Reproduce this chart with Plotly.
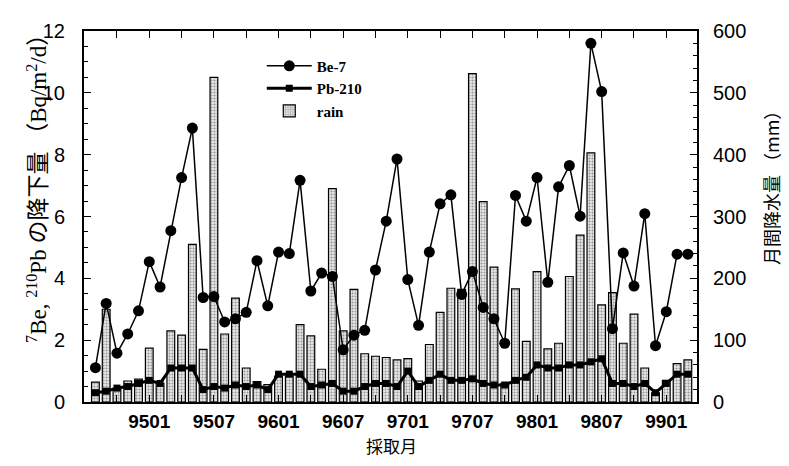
import plotly.graph_objects as go

months = ["9408", "9409", "9410", "9411", "9412",
          "9501", "9502", "9503", "9504", "9505", "9506", "9507", "9508", "9509", "9510", "9511", "9512",
          "9601", "9602", "9603", "9604", "9605", "9606", "9607", "9608", "9609", "9610", "9611", "9612",
          "9701", "9702", "9703", "9704", "9705", "9706", "9707", "9708", "9709", "9710", "9711", "9712",
          "9801", "9802", "9803", "9804", "9805", "9806", "9807", "9808", "9809", "9810", "9811", "9812",
          "9901", "9902", "9903"]

be7 = [1.11, 3.19, 1.58, 2.20, 2.95,
       4.54, 3.72, 5.54, 7.26, 8.86, 3.38, 3.41, 2.59, 2.69, 2.90, 4.57, 3.11,
       4.85, 4.80, 7.17, 3.59, 4.17, 4.06, 1.69, 2.16, 2.32, 4.27, 5.85, 7.86,
       3.96, 2.48, 4.85, 6.41, 6.70, 3.48, 4.22, 3.06, 2.69, 1.90, 6.68, 5.85,
       7.26, 3.87, 6.96, 7.65, 6.01, 11.6, 10.04, 2.37, 4.82, 3.75, 6.09, 1.82,
       2.92, 4.78, 4.78]

pb210 = [0.30, 0.35, 0.45, 0.50, 0.60,
         0.70, 0.60, 1.10, 1.10, 1.10, 0.40, 0.50, 0.45, 0.55, 0.50, 0.55, 0.40,
         0.90, 0.90, 0.90, 0.50, 0.55, 0.60, 0.35, 0.35, 0.50, 0.60, 0.60, 0.50,
         1.00, 0.50, 0.70, 0.90, 0.70, 0.70, 0.75, 0.60, 0.55, 0.55, 0.70, 0.80,
         1.20, 1.10, 1.10, 1.20, 1.20, 1.30, 1.40, 0.60, 0.60, 0.50, 0.60, 0.30,
         0.60, 0.90, 0.90]

rain = [32, 150, 20, 34, 37,
        87, 30, 115, 108, 255, 85, 525, 110, 168, 55, 33, 28,
        42, 42, 125, 107, 53, 345, 115, 182, 78, 74, 72, 68,
        70, 34, 93, 145, 184, 182, 531, 324, 218, 30, 183, 98,
        211, 86, 95, 203, 270, 403, 157, 177, 95, 142, 55, 15,
        35, 62, 68]

tick_labels = ["9501", "9507", "9601", "9607", "9701", "9707", "9801", "9807", "9901"]

x = list(range(len(months)))
first_label = months.index(tick_labels[0])
tickvals = list(range(first_label - 3, len(months) + 1, 3))
ticktext = []
for v in tickvals:
    if 0 <= v < len(months) and months[v] in tick_labels:
        ticktext.append(months[v])
    else:
        ticktext.append("")

fig = go.Figure()

fig.add_trace(go.Bar(
    x=x, y=rain, name="rain", yaxis="y", width=0.72,
    marker=dict(color="#e6e6e6", line=dict(color="black", width=1.2),
                pattern=dict(shape=".", fgcolor="#444444", bgcolor="#e6e6e6", size=3, solidity=0.35)),
    legendrank=3,
))
fig.add_trace(go.Scatter(
    x=x, y=pb210, name="Pb-210", yaxis="y2", mode="lines+markers",
    line=dict(color="black", width=3), marker=dict(symbol="square", size=7, color="black"),
    legendrank=2,
))
fig.add_trace(go.Scatter(
    x=x, y=be7, name="Be-7", yaxis="y2", mode="lines+markers",
    line=dict(color="black", width=1.5), marker=dict(symbol="circle", size=11, color="black"),
    legendrank=1,
))

fig.update_layout(
    width=781, height=458,
    margin=dict(l=76, r=92, t=15, b=64),
    plot_bgcolor="white", paper_bgcolor="white",
    showlegend=True,
    legend=dict(x=0.29, y=0.95, xanchor="left", yanchor="top",
                font=dict(family="Liberation Serif", size=15, color="black", weight="bold"),
                bgcolor="rgba(0,0,0,0)", tracegroupgap=0, itemwidth=45),
    xaxis=dict(range=[-1.06, 55.85], tickmode="array", tickvals=tickvals, ticktext=ticktext,
               ticks="inside", ticklen=7, tickwidth=1.2, tickcolor="black",
               showline=True, linecolor="black", linewidth=2, mirror="ticks",
               showgrid=False, zeroline=False, ticklabelstandoff=1,
               tickfont=dict(family="Liberation Sans", size=19, color="black", weight="bold")),
    yaxis=dict(range=[0, 600], side="right", tickvals=[0, 100, 200, 300, 400, 500, 600],
               ticks="inside", ticklen=7, tickwidth=1.2, tickcolor="black",
               minor=dict(dtick=20, ticks="inside", ticklen=4, tickcolor="black"),
               showline=True, linecolor="black", linewidth=2,
               showgrid=False, zeroline=False, ticklabelstandoff=10,
               tickfont=dict(family="Liberation Sans", size=20, color="black")),
    yaxis2=dict(range=[0, 12], side="left", overlaying="y", tickvals=[0, 2, 4, 6, 8, 10, 12],
                ticks="inside", ticklen=7, tickwidth=1.2, tickcolor="black",
                minor=dict(dtick=0.5, ticks="inside", ticklen=4, tickcolor="black"),
                showline=True, linecolor="black", linewidth=2,
                showgrid=False, zeroline=False, ticklabelstandoff=13,
                tickfont=dict(family="Liberation Sans", size=20, color="black")),
    bargap=0.2,
)

fig.add_annotation(
    text="<sup>7</sup>Be, <sup>210</sup>Pb の降下量 （Bq/m<sup>2</sup>/d）",
    xref="paper", yref="paper", x=-0.077, y=0.59, xanchor="center", yanchor="middle",
    textangle=-90, showarrow=False,
    font=dict(family="Liberation Serif, Noto Sans CJK JP", size=23, color="black"),
)
fig.add_annotation(
    text="月間降水量 （mm）",
    xref="paper", yref="paper", x=1.121, y=0.588, xanchor="center", yanchor="middle",
    textangle=-90, showarrow=False,
    font=dict(family="Noto Sans CJK JP", size=18, color="black"),
)
fig.add_annotation(
    text="採取月",
    xref="paper", yref="paper", x=0.502, y=-0.116, xanchor="center", yanchor="middle",
    showarrow=False,
    font=dict(family="Noto Sans CJK JP", size=17, color="black"),
)

fig.write_html("out.html")
